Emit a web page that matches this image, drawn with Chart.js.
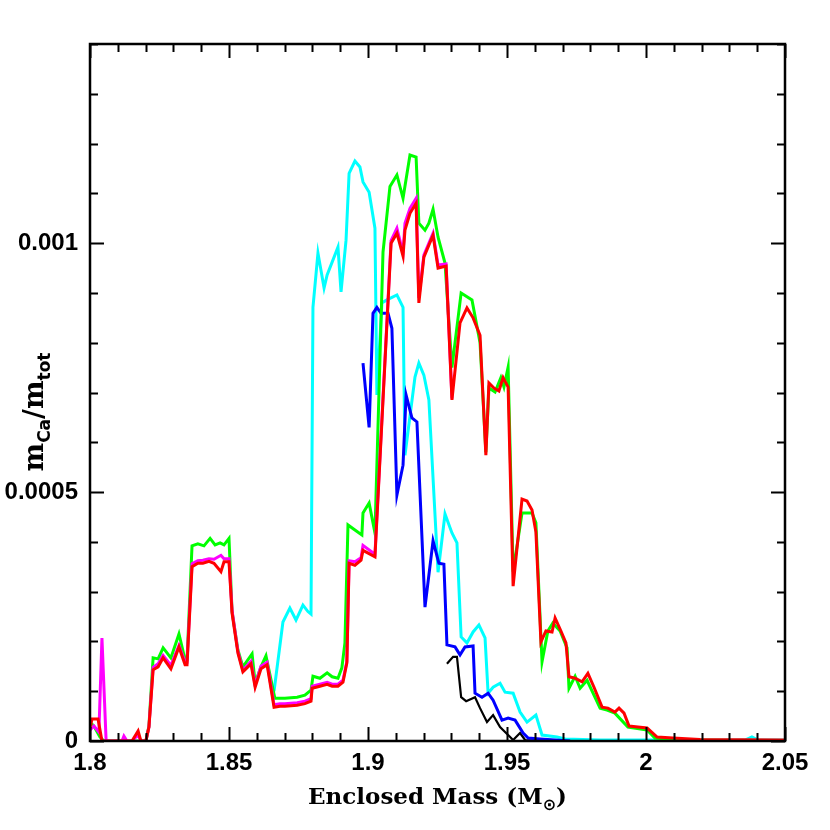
<!DOCTYPE html>
<html>
<head>
<meta charset="utf-8">
<script src="https://cdn.jsdelivr.net/npm/chart.js@4.4.1/dist/chart.umd.min.js"></script>
<style>
  html, body { margin: 0; padding: 0; background: #fff; }
  #wrap { width: 830px; height: 830px; }
</style>
</head>
<body>
<div id="wrap"><canvas id="caChart" width="830" height="830"></canvas></div>
<script>
// ======================================
// DATA
// ======================================
const xTickVals = [1.8, 1.85, 1.9, 1.95, 2.0, 2.05];
const xTickLabels = ['1.8', '1.85', '1.9', '1.95', '2', '2.05'];
const yTickVals = [0, 0.0005, 0.001];
const yTickLabels = ['0', '0.0005', '0.001'];

const redX = [1.8, 1.8007, 1.8029, 1.8043, 1.8151, 1.8173, 1.8183, 1.8201, 1.8212, 1.8227, 1.8245, 1.8263, 1.8291, 1.832, 1.8342, 1.8349,
  1.8367, 1.8388, 1.8406, 1.8428, 1.8446, 1.8471, 1.8482, 1.85, 1.8511, 1.8532, 1.855, 1.8579, 1.8594, 1.8615, 1.8637, 1.8662,
  1.8683, 1.8701, 1.8745, 1.8773, 1.8795, 1.8799, 1.8827, 1.8853, 1.8871, 1.8892, 1.891, 1.8924, 1.8932, 1.8953, 1.8975, 1.8982,
  1.9025, 1.9083, 1.9104, 1.9126, 1.9133, 1.9151, 1.9173, 1.9183, 1.9201, 1.9234, 1.9252, 1.9281, 1.9302, 1.9331, 1.9356, 1.9378,
  1.9403, 1.9424, 1.9435, 1.9453, 1.9471, 1.9486, 1.9504, 1.9522, 1.9554, 1.9572, 1.959, 1.9604, 1.9622, 1.964, 1.9662, 1.9673,
  1.9694, 1.9712, 1.9723, 1.9745, 1.977, 1.9791, 1.9813, 1.9842, 1.9863, 1.9888, 1.9903, 1.9921, 1.9939, 1.9971, 2.0004, 2.004,
  2.0097, 2.0194, 2.05];
const redY = [0.000026, 0.000044, 0.000044, 0, 0, 0.00002, 0, 0, 0.000028, 0.000143, 0.000149, 0.000167, 0.000145, 0.000189, 0.000153, 0.000153,
  0.00035, 0.000357, 0.000357, 0.000361, 0.000357, 0.00034, 0.00036, 0.00036, 0.000257, 0.000177, 0.000139, 0.000155, 0.000108, 0.000145, 0.000153, 0.000068,
  0.00007, 0.00007, 0.000072, 0.000075, 0.00008, 0.000106, 0.00011, 0.000114, 0.00011, 0.00011, 0.000118, 0.000157, 0.000357, 0.000353, 0.000363, 0.000383,
  0.00037, 0.001, 0.00102, 0.000974, 0.001026, 0.00106, 0.00108, 0.00088, 0.000972, 0.001016, 0.00095, 0.000954, 0.000685, 0.00084, 0.00087, 0.00085,
  0.000815, 0.000574, 0.000719, 0.000709, 0.000703, 0.00073, 0.000711, 0.000311, 0.000486, 0.000482, 0.000464, 0.00042, 0.000199, 0.000221, 0.000219, 0.000247,
  0.000221, 0.000197, 0.000129, 0.000126, 0.000119, 0.000136, 0.000108, 0.000068, 0.000066, 0.000058, 0.000066, 0.000056, 0.00003, 0.000028, 0.000026, 0.000008,
  0.000006, 0.000003, 0.000002];

const magentaX = [1.8, 1.8014, 1.8032, 1.8043, 1.8058, 1.8115, 1.8122, 1.8133, 1.8151, 1.8173, 1.8183, 1.8201, 1.8212, 1.8227, 1.8245, 1.8263,
  1.8291, 1.832, 1.8342, 1.8349, 1.8367, 1.8388, 1.8406, 1.8428, 1.8446, 1.8471, 1.8482, 1.85, 1.8511, 1.8532, 1.855, 1.8579,
  1.8594, 1.8615, 1.8637, 1.8662, 1.8683, 1.8701, 1.8745, 1.8773, 1.8795, 1.8799, 1.8827, 1.8853, 1.8871, 1.8892, 1.891, 1.8924,
  1.8932, 1.8953, 1.8975, 1.8982, 1.9025, 1.9083, 1.9104, 1.9126, 1.9133, 1.9151, 1.9173, 1.9183, 1.9201, 1.9234, 1.9252, 1.9281, 1.9302];
const magentaY = [0.000022, 0.00003, 0.000018, 0.000207, 0, 0, 0.00001, 0, 0, 0.000012, 0, 0, 0.000028, 0.000148, 0.000155, 0.000172,
  0.000152, 0.000192, 0.000158, 0.000158, 0.000356, 0.000362, 0.000363, 0.000366, 0.000365, 0.000373, 0.000366, 0.000366, 0.000262, 0.00018, 0.000142, 0.00016,
  0.000112, 0.00015, 0.000158, 0.000073, 0.000075, 0.000075, 0.000077, 0.00008, 0.000085, 0.00011, 0.000114, 0.000118, 0.000114, 0.000114, 0.000122, 0.00016,
  0.000362, 0.00036, 0.000368, 0.000393, 0.000375, 0.001005, 0.00103, 0.00098, 0.00104, 0.00107, 0.00109, 0.00089, 0.000976, 0.00102, 0.000956, 0.000958, 0.000688];

const greenX = [1.8, 1.8014, 1.8036, 1.805, 1.8201, 1.8212, 1.8227, 1.8245, 1.8263, 1.8291, 1.832, 1.8342, 1.8349, 1.8367, 1.8388, 1.841,
  1.8432, 1.845, 1.8468, 1.8482, 1.85, 1.8511, 1.8532, 1.855, 1.8583, 1.8594, 1.8615, 1.8633, 1.8665, 1.8701, 1.8745, 1.8773,
  1.8795, 1.8802, 1.8827, 1.8853, 1.8871, 1.8892, 1.8906, 1.8917, 1.8928, 1.8953, 1.8978, 1.8982, 1.9004, 1.9025, 1.9054, 1.9079,
  1.9104, 1.9126, 1.9151, 1.9173, 1.9183, 1.9205, 1.9219, 1.9234, 1.9252, 1.9277, 1.9302, 1.9335, 1.9374, 1.9403, 1.9424, 1.9435,
  1.9457, 1.9478, 1.9489, 1.9504, 1.9522, 1.9554, 1.9572, 1.959, 1.9604, 1.9626, 1.9647, 1.9665, 1.9691, 1.9716, 1.9723, 1.9745,
  1.9763, 1.9788, 1.9835, 1.986, 1.9888, 1.9935, 2.0004, 2.0032, 2.0122, 2.05];
const greenY = [0.000038, 0.00003, 0.000008, 0, 0, 0.00003, 0.000167, 0.000165, 0.000187, 0.000167, 0.000215, 0.000163, 0.000163, 0.000392, 0.000396, 0.000392,
  0.000407, 0.000394, 0.000398, 0.000394, 0.000407, 0.00026, 0.000183, 0.000149, 0.000175, 0.000116, 0.000149, 0.000171, 0.000086, 0.000086, 0.000088, 0.000092,
  0.000102, 0.00013, 0.000126, 0.000137, 0.000129, 0.000126, 0.000147, 0.000197, 0.000434, 0.000424, 0.000414, 0.000458, 0.000478, 0.000418, 0.000982, 0.001114,
  0.001137, 0.00109, 0.001177, 0.001173, 0.00104, 0.001026, 0.00104, 0.001068, 0.001012, 0.00096, 0.00075, 0.0009, 0.000886, 0.0008, 0.00058, 0.000709,
  0.000701, 0.00073, 0.000711, 0.000751, 0.00034, 0.000458, 0.000458, 0.000458, 0.000438, 0.000159, 0.000221, 0.000237, 0.000221, 0.000187, 0.000106, 0.00013,
  0.000106, 0.000122, 0.000066, 0.000062, 0.000056, 0.000028, 0.000022, 0.000006, 0.000002, 0];

const cyanX = [1.8662, 1.8694, 1.8719, 1.8741, 1.8766, 1.8784, 1.8795, 1.8802, 1.882, 1.8842, 1.8853, 1.8892, 1.8903, 1.8921, 1.8932, 1.8953,
  1.8971, 1.8982, 1.9004, 1.9025, 1.9032, 1.905, 1.9068, 1.9104, 1.9126, 1.9133, 1.9169, 1.9183, 1.9201, 1.9219, 1.9252, 1.9277,
  1.9302, 1.932, 1.9335, 1.9356, 1.9378, 1.9399, 1.9421, 1.9432, 1.945, 1.9475, 1.9493, 1.9522, 1.9547, 1.9572, 1.9604, 1.9626,
  1.968, 1.9709, 1.9835, 2.0356, 2.0381, 2.0403, 2.05];
const cyanY = [0.0001, 0.000239, 0.000267, 0.000243, 0.000273, 0.00026, 0.000255, 0.000871, 0.00098, 0.00091, 0.000936, 0.000992, 0.000902, 0.001006, 0.00114, 0.001165,
  0.001153, 0.001123, 0.001102, 0.00103, 0.000695, 0.00088, 0.000886, 0.000896, 0.000871, 0.000574, 0.000731, 0.000759, 0.000735, 0.000685, 0.000339, 0.000456,
  0.000418, 0.000398, 0.000209, 0.000197, 0.000219, 0.000233, 0.000207, 0.000096, 0.000108, 0.000116, 0.000098, 0.000096, 0.000058, 0.000038, 0.000052, 0.000012,
  0.000008, 0.000004, 0.000002, 0.000002, 0.000008, 0.000002, 0.000002];

const blueX = [1.8982, 1.9004, 1.9018, 1.9032, 1.9047, 1.9072, 1.9086, 1.9104, 1.9126, 1.9137, 1.9158, 1.9176, 1.9205, 1.9234, 1.9255, 1.9273,
  1.9284, 1.9313, 1.9331, 1.9349, 1.9378, 1.9385, 1.941, 1.9432, 1.945, 1.9482, 1.9504, 1.9529, 1.9558, 1.9576, 1.9619, 1.9673, 1.9727];
const blueY = [0.000759, 0.00063, 0.000859, 0.000871, 0.000859, 0.000859, 0.000829, 0.000494, 0.000554, 0.000695, 0.000649, 0.000641, 0.000269, 0.000402, 0.000357, 0.000355,
  0.000193, 0.000189, 0.000173, 0.000189, 0.000191, 0.000096, 0.000088, 0.000096, 0.000082, 0.000042, 0.000046, 0.000042, 0.000016, 0.000006, 0.000004, 0.000002, 0];

const blackX = [1.9284, 1.9306, 1.932, 1.9335, 1.9353, 1.9385, 1.9403, 1.9428, 1.945, 1.9475, 1.9504, 1.9522, 1.9547, 1.9565, 1.9619];
const blackY = [0.000155, 0.000169, 0.000169, 0.000088, 0.00008, 0.000088, 0.000066, 0.000038, 0.000052, 0.000028, 0.000012, 0.000002, 0.000016, 0.000002, 0];

// ======================================
// HELPERS
// ======================================
function toPoints(xs, ys) {
    return xs.map((x, i) => ({ x: x, y: ys[i] }));
}
function lineSet(label, xs, ys, color, width, order) {
    return { label: label, data: toPoints(xs, ys), borderColor: color, borderWidth: width, pointRadius: 0,
             fill: false, tension: 0, order: order, borderJoinStyle: 'miter' };
}

// frame, inside ticks and axis titles
const framePlugin = {
    id: 'framePlugin',
    afterDraw(chart) {
        const { ctx, chartArea: a, scales: { x, y } } = chart;
        ctx.save();
        ctx.strokeStyle = '#000';
        ctx.lineWidth = 2;
        // minor/major ticks on x (bottom + top)
        for (let i = 0; i <= 25; i++) {
            const v = 1.8 + i * 0.01;
            const px = Math.round(x.getPixelForValue(v)) + 0.5;
            const len = (i % 5 === 0) ? 14 : 8;
            ctx.beginPath();
            ctx.moveTo(px, a.bottom); ctx.lineTo(px, a.bottom - len);
            ctx.moveTo(px, a.top); ctx.lineTo(px, a.top + len);
            ctx.stroke();
        }
        // minor/major ticks on y (left + right)
        for (let i = 0; i <= 14; i++) {
            const v = i * 0.0001;
            const py = Math.round(y.getPixelForValue(v)) + 0.5;
            const len = (i % 5 === 0) ? 14 : 8;
            ctx.beginPath();
            ctx.moveTo(a.left, py); ctx.lineTo(a.left + len, py);
            ctx.moveTo(a.right, py); ctx.lineTo(a.right - len, py);
            ctx.stroke();
        }
        ctx.lineWidth = 2.5;
        ctx.strokeRect(a.left, a.top, a.right - a.left, a.bottom - a.top);

        // x title: Enclosed Mass (M_sun)
        ctx.fillStyle = '#000';
        ctx.textBaseline = 'alphabetic';
        const big = 'bold 23px "DejaVu Serif", serif';
        const small = 'bold 16px "DejaVu Sans", sans-serif';
        const p1 = 'Enclosed Mass (M', p2 = '\u2299', p3 = ')';
        ctx.font = big; const w1 = ctx.measureText(p1).width, w3 = ctx.measureText(p3).width;
        ctx.font = small; const w2 = ctx.measureText(p2).width;
        let sx = (a.left + a.right) / 2 - (w1 + w2 + w3) / 2;
        const by = 804;
        ctx.textAlign = 'left';
        ctx.font = big; ctx.fillText(p1, sx, by); sx += w1;
        ctx.font = small; ctx.fillText(p2, sx, by + 6); sx += w2;
        ctx.font = big; ctx.fillText(p3, sx, by);

        // y title: m_Ca / m_tot
        ctx.translate(43, 412);
        ctx.rotate(-Math.PI / 2);
        const yBig = 'bold 27px "DejaVu Serif", serif';
        const ySmall = 'bold 17px "DejaVu Sans", sans-serif';
        const parts = [['m', yBig, 0], ['Ca', ySmall, 7], ['/', yBig, 0], ['m', yBig, 0], ['tot', ySmall, 7]];
        let tw = 0;
        parts.forEach(p => { ctx.font = p[1]; tw += ctx.measureText(p[0]).width; });
        let tx = -tw / 2;
        parts.forEach(p => { ctx.font = p[1]; ctx.fillText(p[0], tx, p[2]); tx += ctx.measureText(p[0]).width; });
        ctx.restore();
    }
};

// ======================================
// CHART
// ======================================
document.addEventListener('DOMContentLoaded', function() {
    const tickFont = { family: '"Liberation Sans", Arial, sans-serif', size: 24, weight: 'bold' };
    const data = {
        datasets: [
            lineSet('red', redX, redY, '#ff0000', 3, 0),
            lineSet('magenta', magentaX, magentaY, '#ff00ff', 3, 1),
            lineSet('green', greenX, greenY, '#00ff00', 3, 2),
            lineSet('blue', blueX, blueY, '#0000ff', 3, 3),
            lineSet('black', blackX, blackY, '#000000', 2.2, 4),
            lineSet('cyan', cyanX, cyanY, '#00ffff', 3, 5)
        ]
    };
    const options = {
        responsive: false, animation: false,
        layout: { padding: { top: 44, right: 45, left: 0, bottom: 0 } },
        plugins: { legend: { display: false }, tooltip: { enabled: false }, title: { display: false } },
        scales: {
            x: {
                type: 'linear', min: 1.8, max: 2.05,
                grid: { display: false, drawTicks: false }, border: { display: false },
                afterBuildTicks: s => { s.ticks = xTickVals.map(v => ({ value: v })); },
                afterFit: s => { s.height = 89; },
                ticks: { color: '#000', font: tickFont, padding: 8, maxRotation: 0, autoSkip: false,
                         callback: (v) => { const i = xTickVals.findIndex(t => Math.abs(t - v) < 1e-9); return i >= 0 ? xTickLabels[i] : ''; } }
            },
            y: {
                type: 'linear', min: 0, max: 0.0014,
                grid: { display: false, drawTicks: false }, border: { display: false },
                afterBuildTicks: s => { s.ticks = yTickVals.map(v => ({ value: v })); },
                afterFit: s => { s.width = 90; },
                ticks: { color: '#000', font: tickFont, padding: 12, autoSkip: false,
                         callback: (v) => { const i = yTickVals.findIndex(t => Math.abs(t - v) < 1e-12); return i >= 0 ? yTickLabels[i] : ''; } }
            }
        }
    };
    try {
        new Chart(document.getElementById('caChart').getContext('2d'), { type: 'line', data: data, options: options, plugins: [framePlugin] });
    } catch (e) { console.error('Errore init caChart:', e); }
});
</script>
</body>
</html>
